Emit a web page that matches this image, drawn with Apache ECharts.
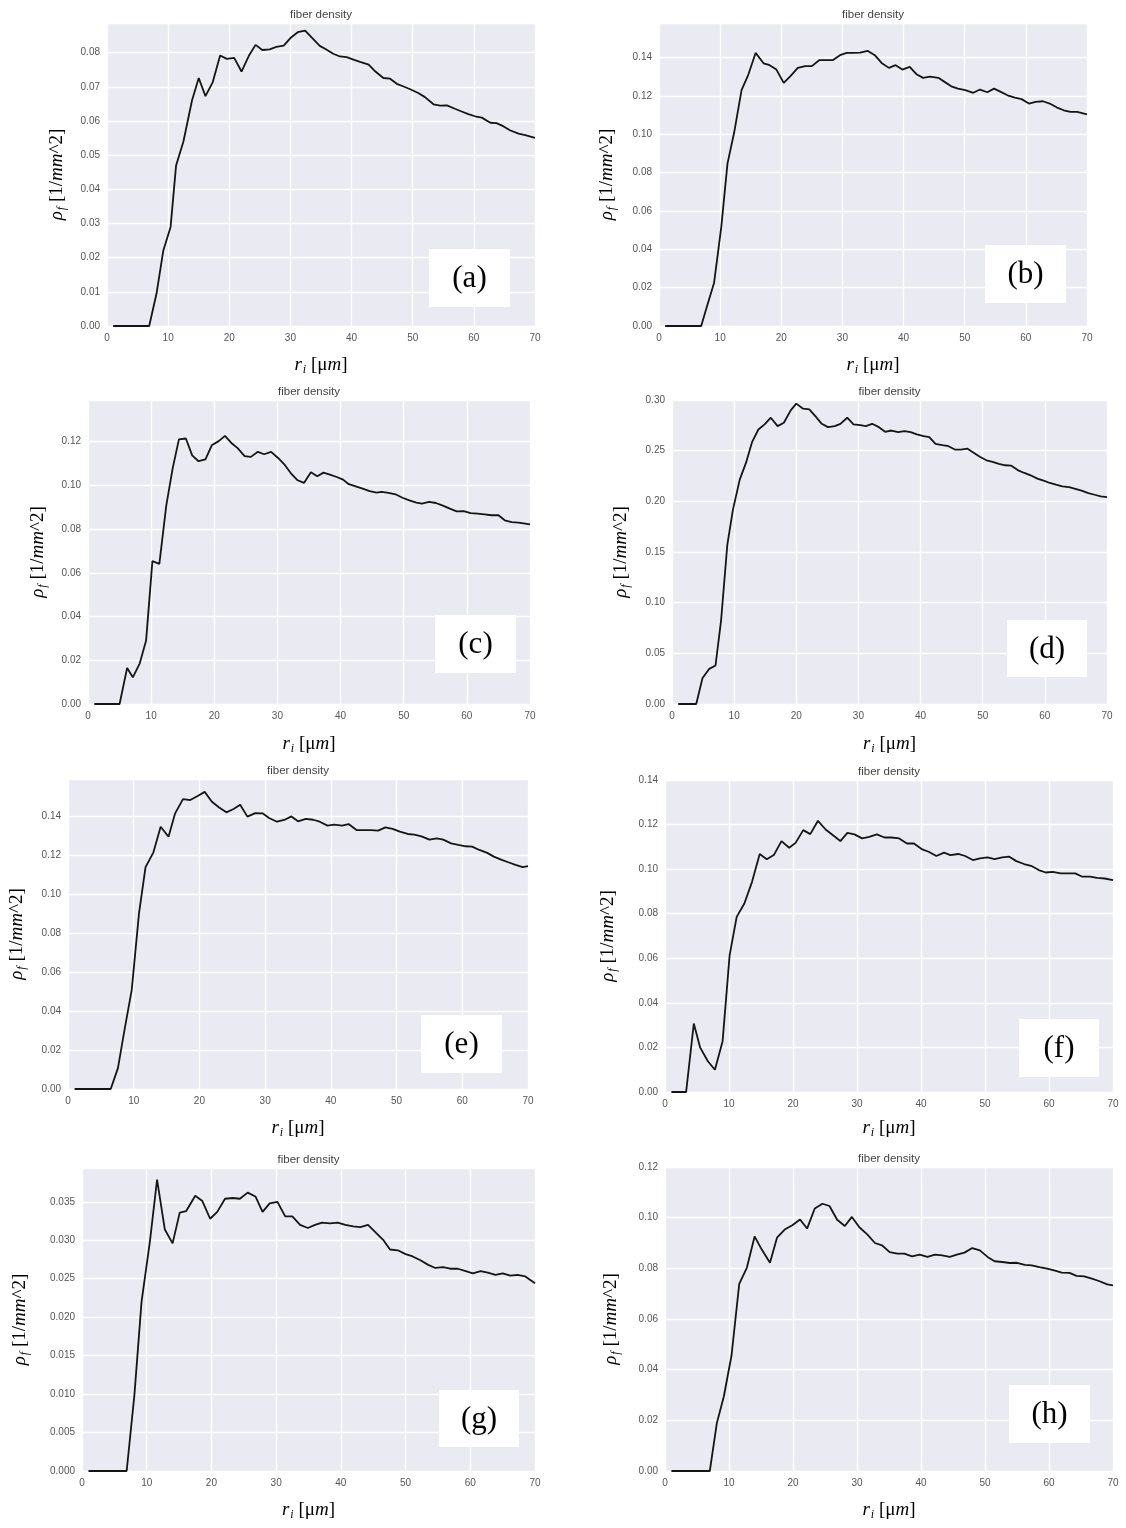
<!DOCTYPE html>
<html><head><meta charset="utf-8">
<script src="https://cdn.jsdelivr.net/npm/echarts@6/dist/echarts.min.js"></script>
<style>html,body{margin:0;padding:0;background:#fff}#c{width:1126px;height:1528px}</style>
</head><body><div id="c"></div>
<script>
// ---- data (radius r_i in µm, fiber density rho_f in 1/mm^2) ----
const rA = [1, 6.9, 8.1, 9.2, 10.4, 11.3, 12.5, 13.9, 15.0, 16.1, 17.3, 18.5, 19.6, 20.8, 22.0, 23.2, 24.3, 25.4, 26.6, 27.7, 28.9, 30.0, 31.2, 32.4, 33.5, 34.8, 35.8, 37.0, 38.1, 39.2, 40.3, 41.4, 42.8, 43.9, 45.2, 46.3, 47.4, 48.5, 49.6, 50.9, 52.0, 53.4, 54.5, 55.6, 56.9, 58.0, 59.1, 60.2, 61.3, 62.7, 63.7, 64.8, 65.9, 67.3, 68.4, 70];
const rhoA = [0, 0, 0.0095, 0.022, 0.029, 0.047, 0.054, 0.066, 0.0726, 0.0673, 0.0714, 0.0792, 0.0782, 0.0785, 0.0745, 0.0791, 0.0823, 0.0808, 0.081, 0.0817, 0.0821, 0.0843, 0.086, 0.0865, 0.0844, 0.082, 0.081, 0.0797, 0.0789, 0.0787, 0.078, 0.0773, 0.0765, 0.0745, 0.0726, 0.0724, 0.0709, 0.0701, 0.0693, 0.0682, 0.067, 0.0649, 0.0645, 0.0646, 0.0636, 0.0628, 0.062, 0.0614, 0.061, 0.0595, 0.0594, 0.0585, 0.0573, 0.0563, 0.0559, 0.0551];

const rB = [1, 6.9, 7.9, 9.0, 10.2, 11.2, 12.3, 13.5, 14.6, 15.8, 17.1, 18.1, 19.2, 20.4, 21.5, 22.7, 23.9, 25.0, 26.2, 27.3, 28.4, 29.6, 30.7, 31.8, 32.9, 34.1, 35.3, 36.4, 37.6, 38.7, 39.8, 41.0, 42.1, 43.2, 44.3, 45.7, 46.7, 47.8, 48.9, 50.1, 51.4, 52.5, 53.7, 54.8, 55.9, 57.0, 58.2, 59.3, 60.5, 61.6, 62.8, 63.9, 65.1, 66.2, 67.3, 68.4, 70];
const rhoB = [0, 0, 0.0108, 0.0224, 0.052, 0.0847, 0.101, 0.123, 0.131, 0.1424, 0.137, 0.136, 0.1337, 0.1268, 0.1303, 0.1346, 0.1355, 0.1355, 0.1386, 0.1386, 0.1386, 0.1412, 0.1424, 0.1424, 0.1426, 0.1435, 0.1412, 0.1372, 0.1346, 0.136, 0.1337, 0.1351, 0.1313, 0.1294, 0.13, 0.1294, 0.1273, 0.125, 0.1238, 0.123, 0.1216, 0.1233, 0.1219, 0.1238, 0.1221, 0.1203, 0.1191, 0.1183, 0.116, 0.1169, 0.1172, 0.116, 0.1139, 0.1125, 0.1117, 0.1117, 0.1104];

const rC = [1, 5.0, 6.2, 7.1, 8.2, 9.2, 10.2, 11.3, 12.4, 13.4, 14.4, 15.5, 16.5, 17.5, 18.6, 19.6, 20.7, 21.7, 22.8, 23.7, 24.8, 25.8, 26.9, 27.9, 29.0, 30.1, 31.2, 32.1, 33.2, 34.2, 35.3, 36.3, 37.3, 38.3, 39.4, 40.4, 41.3, 42.4, 43.5, 44.6, 45.7, 46.5, 47.6, 48.7, 49.8, 50.9, 52.0, 52.9, 54.0, 55.1, 56.2, 57.3, 58.4, 59.5, 60.6, 61.7, 62.8, 63.9, 65.0, 66.0, 67.1, 68.2, 70];
const rhoC = [0, 0, 0.0165, 0.0122, 0.0186, 0.029, 0.0653, 0.0641, 0.0908, 0.1076, 0.121, 0.1214, 0.1137, 0.111, 0.1118, 0.1183, 0.1202, 0.1226, 0.1191, 0.117, 0.1133, 0.113, 0.1153, 0.1142, 0.1153, 0.1125, 0.1092, 0.1056, 0.1023, 0.1011, 0.106, 0.1041, 0.1058, 0.1049, 0.1038, 0.1026, 0.1005, 0.0995, 0.0985, 0.0973, 0.0966, 0.097, 0.0965, 0.0959, 0.0943, 0.0931, 0.0921, 0.0916, 0.0924, 0.0919, 0.0907, 0.0893, 0.0881, 0.0882, 0.0873, 0.087, 0.0867, 0.0863, 0.0863, 0.084, 0.0832, 0.0829, 0.0821];

const rD = [1, 3.9, 4.9, 6.0, 7.0, 7.9, 8.9, 9.8, 10.9, 11.9, 12.9, 13.9, 14.9, 15.9, 17.0, 18.0, 19.1, 20.0, 21.1, 22.1, 23.2, 24.1, 25.1, 26.2, 27.1, 28.2, 29.2, 30.3, 31.2, 32.2, 33.3, 34.3, 35.3, 36.4, 37.4, 38.4, 39.4, 40.5, 41.4, 42.4, 43.5, 44.5, 45.5, 46.5, 47.5, 48.6, 49.6, 50.6, 51.6, 52.6, 53.6, 54.6, 55.7, 56.7, 57.7, 58.8, 59.8, 60.8, 61.8, 62.8, 63.9, 64.9, 65.9, 67.0, 68.0, 69.0, 70];
const rhoD = [0, 0, 0.0254, 0.0347, 0.038, 0.0826, 0.157, 0.1916, 0.2214, 0.2379, 0.2587, 0.2709, 0.2759, 0.2825, 0.2742, 0.2775, 0.2898, 0.2964, 0.2914, 0.2907, 0.2831, 0.2765, 0.2732, 0.2742, 0.2765, 0.2825, 0.2759, 0.2752, 0.2742, 0.2765, 0.2732, 0.2686, 0.2699, 0.2683, 0.2693, 0.2683, 0.266, 0.2643, 0.2633, 0.2567, 0.2554, 0.2544, 0.2511, 0.2511, 0.2521, 0.2478, 0.2438, 0.2405, 0.2389, 0.2369, 0.2356, 0.2352, 0.2306, 0.228, 0.2257, 0.2224, 0.2204, 0.2181, 0.2164, 0.2148, 0.2141, 0.2124, 0.2105, 0.2081, 0.2065, 0.2048, 0.2042];

const rE = [1, 6.5, 7.6, 8.6, 9.7, 10.8, 11.8, 13.0, 14.1, 15.3, 16.3, 17.5, 18.6, 19.8, 20.8, 21.9, 23.0, 24.1, 25.2, 26.2, 27.3, 28.5, 29.6, 30.6, 31.8, 32.9, 34.0, 35.0, 36.2, 37.3, 38.3, 39.5, 40.5, 41.7, 42.7, 43.9, 44.9, 46.1, 47.2, 48.3, 49.4, 50.5, 51.7, 52.7, 53.8, 55.0, 56.1, 57.1, 58.3, 59.4, 60.5, 61.5, 62.6, 63.8, 64.8, 66.0, 67.0, 68.1, 69.2, 70];
const rhoE = [0, 0, 0.0107, 0.0303, 0.0508, 0.0899, 0.1138, 0.1214, 0.1345, 0.1294, 0.1414, 0.1487, 0.1482, 0.1504, 0.1524, 0.1473, 0.1444, 0.1419, 0.1436, 0.1458, 0.1397, 0.1415, 0.1414, 0.139, 0.1371, 0.138, 0.1398, 0.1373, 0.1385, 0.1381, 0.1371, 0.1351, 0.1356, 0.1351, 0.1359, 0.1328, 0.1328, 0.1328, 0.1325, 0.1342, 0.1334, 0.132, 0.1308, 0.1305, 0.1296, 0.1279, 0.1286, 0.1279, 0.126, 0.1252, 0.1245, 0.1243, 0.1226, 0.1211, 0.1192, 0.1175, 0.1163, 0.115, 0.1138, 0.1143];

const rF = [1, 3.3, 4.5, 5.5, 6.7, 7.8, 9.0, 10.1, 11.2, 12.4, 13.6, 14.8, 15.9, 17.0, 18.2, 19.4, 20.4, 21.6, 22.7, 23.9, 25.1, 26.2, 27.4, 28.5, 29.6, 30.8, 31.9, 33.1, 34.3, 35.4, 36.6, 37.8, 38.9, 40.1, 41.2, 42.4, 43.6, 44.6, 45.8, 46.9, 48.1, 49.2, 50.4, 51.5, 52.7, 53.8, 54.9, 56.1, 57.2, 58.4, 59.5, 60.6, 61.8, 63.0, 64.1, 65.2, 66.4, 67.5, 68.7, 70];
const rhoF = [0, 0, 0.0307, 0.0199, 0.0138, 0.01, 0.0228, 0.0614, 0.0786, 0.0846, 0.0943, 0.1068, 0.1044, 0.1063, 0.1126, 0.1096, 0.1118, 0.1175, 0.1157, 0.1217, 0.1178, 0.1153, 0.1126, 0.1163, 0.1156, 0.1138, 0.1145, 0.1156, 0.1142, 0.1142, 0.1138, 0.1115, 0.1115, 0.109, 0.1078, 0.1059, 0.1074, 0.1063, 0.1068, 0.1059, 0.1041, 0.1048, 0.1053, 0.1045, 0.1053, 0.1056, 0.1036, 0.1023, 0.1015, 0.0996, 0.0985, 0.0988, 0.0981, 0.0981, 0.0981, 0.0966, 0.0966, 0.0961, 0.0958, 0.0951];

const rG = [1, 6.9, 8.1, 9.2, 10.5, 11.6, 12.8, 14.0, 15.1, 16.1, 17.5, 18.6, 19.8, 20.9, 22.1, 23.3, 24.4, 25.6, 26.8, 27.9, 29.0, 30.2, 31.4, 32.5, 33.7, 34.9, 36.0, 37.1, 38.3, 39.5, 40.7, 41.9, 43.0, 44.2, 45.4, 46.5, 47.6, 48.8, 50.0, 51.1, 52.3, 53.5, 54.6, 55.8, 56.9, 58.1, 59.3, 60.4, 61.6, 62.7, 63.9, 65.0, 66.2, 67.3, 68.5, 70];
const rhoG = [0, 0, 0.0099, 0.022, 0.0299, 0.0379, 0.0314, 0.0296, 0.0336, 0.0338, 0.0358, 0.0351, 0.0328, 0.0337, 0.0354, 0.0355, 0.0354, 0.0362, 0.0357, 0.0337, 0.0348, 0.035, 0.0331, 0.0331, 0.032, 0.0316, 0.032, 0.0323, 0.0322, 0.0323, 0.032, 0.0318, 0.0317, 0.032, 0.031, 0.0301, 0.0288, 0.0287, 0.0282, 0.0279, 0.0274, 0.0268, 0.0264, 0.0265, 0.0263, 0.0263, 0.026, 0.0257, 0.026, 0.0258, 0.0255, 0.0257, 0.0254, 0.0255, 0.0253, 0.0244];

const rH = [1, 7.0, 8.1, 9.2, 10.4, 11.6, 12.8, 14.0, 15.1, 16.4, 17.5, 18.7, 19.9, 21.1, 22.2, 23.4, 24.6, 25.7, 26.9, 28.1, 29.2, 30.4, 31.6, 32.8, 33.9, 35.1, 36.3, 37.4, 38.6, 39.8, 41.0, 42.2, 43.3, 44.5, 45.6, 46.8, 48.0, 49.2, 50.4, 51.5, 52.7, 53.9, 55.0, 56.2, 57.3, 58.5, 59.7, 60.8, 62.0, 63.2, 64.3, 65.5, 66.7, 67.8, 69.1, 70];
const rhoH = [0, 0, 0.0189, 0.0295, 0.0457, 0.0739, 0.0803, 0.0926, 0.0875, 0.0822, 0.0921, 0.0953, 0.097, 0.0993, 0.0957, 0.1036, 0.1055, 0.1046, 0.0992, 0.0967, 0.1003, 0.0961, 0.0934, 0.09, 0.0891, 0.0864, 0.0858, 0.0858, 0.0847, 0.0854, 0.0845, 0.0854, 0.0851, 0.0845, 0.0854, 0.0862, 0.088, 0.0871, 0.0845, 0.0828, 0.0825, 0.0821, 0.0822, 0.0814, 0.0812, 0.0805, 0.0799, 0.0792, 0.0783, 0.0782, 0.077, 0.0768, 0.0759, 0.075, 0.0737, 0.0733];

// axis ranges / tick steps
const yMaxes = [0.0887, 0.158, 0.139, 0.30, 0.159, 0.14, 0.0394, 0.12];
const ySteps = [0.01, 0.02, 0.02, 0.05, 0.02, 0.02, 0.005, 0.02];
const yDecimals = [2, 2, 2, 2, 2, 2, 3, 2];
const xTickStep = 10;
const panelLabels = ['(a)', '(b)', '(c)', '(d)', '(e)', '(f)', '(g)', '(h)'];
const panelTitle = 'fiber density';
const radii = [rA, rB, rC, rD, rE, rF, rG, rH];
const rhos = [rhoA, rhoB, rhoC, rhoD, rhoE, rhoF, rhoG, rhoH];

// ---- layout (pixels) ----
const layout = [
  {left: 107, right: 535, top: 23, bottom: 326, yGap: 39, xGap: 28, box: [429, 249, 81, 58]},
  {left: 659, right: 1087, top: 23, bottom: 326, yGap: 41, xGap: 28, box: [985, 245, 81, 58]},
  {left: 88, right: 530, top: 400, bottom: 704, yGap: 39, xGap: 29, box: [435, 615, 81, 58]},
  {left: 672, right: 1107, top: 400, bottom: 704, yGap: 40, xGap: 29, box: [1007, 620, 80, 57]},
  {left: 68, right: 528, top: 779, bottom: 1089, yGap: 40, xGap: 28, box: [421, 1015, 81, 58]},
  {left: 665, right: 1113, top: 780, bottom: 1092, yGap: 46, xGap: 25, box: [1019, 1019, 80, 58]},
  {left: 82, right: 535, top: 1168, bottom: 1471, yGap: 51, xGap: 28, box: [439, 1390, 80, 57]},
  {left: 665, right: 1113, top: 1167, bottom: 1471, yGap: 43, xGap: 28, box: [1009, 1385, 81, 58]}
];

const serif = '"Liberation Serif", "DejaVu Serif", serif';
const sans = '"Liberation Sans", Arial, sans-serif';
const nameRich = {
  it: {fontFamily: serif, fontStyle: 'italic', fontSize: 19, lineHeight: 22, color: '#000'},
  rm: {fontFamily: serif, fontSize: 19, lineHeight: 22, color: '#000'},
  sub: {fontFamily: serif, fontStyle: 'italic', fontSize: 12, lineHeight: 12, padding: [10, 0, 0, 1], color: '#000'}
};

const grids = [], xAxes = [], yAxes = [], series = [], graphics = [];
layout.forEach((p, k) => {
  grids.push({
    left: p.left, top: p.top, width: p.right - p.left, height: p.bottom - p.top,
    show: true, backgroundColor: '#EAEAF2', borderWidth: 0, containLabel: false, outerBoundsMode: 'none'
  });
  xAxes.push({
    type: 'value', gridIndex: k, min: 0, max: 70, interval: xTickStep,
    axisLine: {show: false}, axisTick: {show: false},
    splitLine: {show: true, lineStyle: {color: '#ffffff', width: 1.3}},
    axisLabel: {color: '#555555', fontSize: 10, fontFamily: sans, margin: 7},
    name: '{it|r}{sub|i}{rm| [μ}{it|m}{rm|]}', nameLocation: 'middle', nameGap: p.xGap,
    nameMoveOverlap: false, nameTextStyle: {rich: nameRich}
  });
  const step = ySteps[k], dec = yDecimals[k];
  yAxes.push({
    type: 'value', gridIndex: k, min: 0, max: yMaxes[k], interval: step,
    axisLine: {show: false}, axisTick: {show: false},
    splitLine: {show: true, lineStyle: {color: '#ffffff', width: 1.3}},
    axisLabel: {
      color: '#555555', fontSize: 10, fontFamily: sans, margin: 7,
      formatter: v => {
        const q = v / step;
        return Math.abs(q - Math.round(q)) < 1e-6 ? v.toFixed(dec) : '';
      }
    },
    name: '{it|ρ}{sub|f}{rm| [1/}{it|mm}{rm|^2]}', nameLocation: 'middle', nameGap: p.yGap,
    nameMoveOverlap: false, nameTextStyle: {rich: nameRich}
  });
  series.push({
    type: 'line', xAxisIndex: k, yAxisIndex: k,
    data: radii[k].map((r, i) => [r, rhos[k][i]]),
    showSymbol: false, symbol: 'none', smooth: false,
    lineStyle: {color: '#151515', width: 1.8},
    animation: false, z: 3
  });
  graphics.push({
    type: 'text', x: (p.left + p.right) / 2, y: p.top - 8, z: 50,
    style: {text: panelTitle, font: '11.5px ' + sans, fill: '#444444',
            textAlign: 'center', textVerticalAlign: 'middle', align: 'center', verticalAlign: 'middle'}
  });
  graphics.push({
    type: 'rect', z: 100,
    shape: {x: p.box[0], y: p.box[1], width: p.box[2], height: p.box[3]},
    style: {fill: '#ffffff'}
  });
  graphics.push({
    type: 'text', z: 101, x: p.box[0] + p.box[2] / 2, y: p.box[1] + p.box[3] / 2 + 1,
    style: {text: panelLabels[k], font: '31px ' + serif, fill: '#000',
            textAlign: 'center', textVerticalAlign: 'middle', align: 'center', verticalAlign: 'middle'}
  });
});

const chart = echarts.init(document.getElementById('c'), null, {renderer: 'canvas'});
chart.setOption({
  backgroundColor: '#ffffff',
  animation: false,
  textStyle: {fontFamily: sans},
  grid: grids, xAxis: xAxes, yAxis: yAxes, series: series,
  graphic: {elements: graphics}
});
</script>
</body></html>
